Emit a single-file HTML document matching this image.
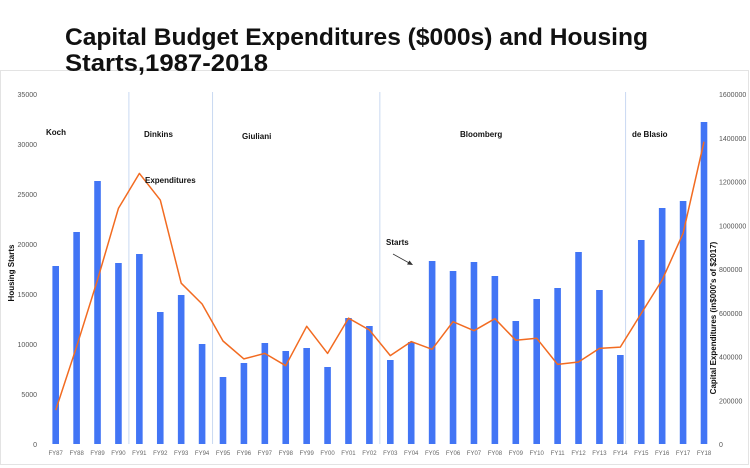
<!DOCTYPE html>
<html><head><meta charset="utf-8"><style>
body{margin:0;background:#fff;}
svg{display:block;font-family:"Liberation Sans",sans-serif;}
</style></head><body>
<svg id="c" width="750" height="468" viewBox="0 0 750 468">
<rect x="0.5" y="70.5" width="748" height="394" fill="#fff" stroke="#e3e3e3"/>
<text x="65" y="45" font-size="24" font-weight="bold" fill="#111" textLength="583" lengthAdjust="spacingAndGlyphs">Capital Budget Expenditures ($000s) and Housing</text>
<text x="65" y="71" font-size="24" font-weight="bold" fill="#111" textLength="203" lengthAdjust="spacingAndGlyphs">Starts,1987-2018</text>
<g id="g"></g>
</svg>
<script>
const categories=["FY87","FY88","FY89","FY90","FY91","FY92","FY93","FY94","FY95","FY96","FY97","FY98","FY99","FY00","FY01","FY02","FY03","FY04","FY05","FY06","FY07","FY08","FY09","FY10","FY11","FY12","FY13","FY14","FY15","FY16","FY17","FY18"];
const starts=[17800,21200,26300,18100,19000,13200,14900,10000,6700,8100,10100,9300,9600,7700,12600,11800,8400,10200,18300,17300,18200,16800,12300,14500,15600,19200,15400,8900,20400,23600,24300,32200];
const expenditures=[155000,445000,750000,1077000,1237000,1115000,735000,640000,471000,389000,414000,358000,538000,414000,575000,521000,404000,468000,433000,559000,518000,573000,474000,483000,364000,375000,437000,443000,597000,750000,963000,1382000];
const leftTicks=[0,5000,10000,15000,20000,25000,30000,35000];
const rightTicks=[0,200000,400000,600000,800000,1000000,1200000,1400000,1600000];
const eras=[{name:"Koch",x:46,y:135},{name:"Dinkins",x:144,y:137},{name:"Giuliani",x:242,y:139},{name:"Bloomberg",x:460,y:137},{name:"de Blasio",x:632,y:137}];
const dividerIdx=[3.5,7.5,15.5,27.25];

const NS="http://www.w3.org/2000/svg";
const g=document.getElementById('g');
const y0=444,y1=94;
const yL=v=>y0-(v/35000)*(y0-y1);
const yR=v=>y0-(v/1600000)*(y0-y1);
const x0=55.7,step=(704-55.7)/31;
const xC=i=>x0+i*step;
function mk(tag,attrs,txt){const e=document.createElementNS(NS,tag);for(const k in attrs)e.setAttribute(k,attrs[k]);if(txt!==undefined)e.textContent=txt;g.appendChild(e);return e;}

leftTicks.forEach(t=>{
  const e=mk('text',{x:37,y:yL(t)+3,'font-size':7,fill:'#555','text-anchor':'end'},String(t));
  
  
});
rightTicks.forEach(t=>{
  const e=mk('text',{x:719,y:yR(t)+3,'font-size':7,fill:'#555'},String(t));
  
  
});
dividerIdx.forEach(d=>{
  const x=xC(d);
  const e=mk('line',{x1:x,x2:x,y1:92,y2:444,stroke:'#c9d8f2','stroke-width':1});
  
  
});
starts.forEach((v,i)=>{
  const e=mk('rect',{x:xC(i)-3.3,y:yL(v),width:6.6,height:y0-yL(v),fill:'#4275f5'});
  
  
});
categories.forEach((c,i)=>{
  const e=mk('text',{x:xC(i),y:455,'font-size':6,fill:'#666','text-anchor':'middle'},c);
  
  
});
const pts=expenditures.map((v,i)=>xC(i).toFixed(1)+','+yR(v).toFixed(1)).join(' ');
const pl=mk('polyline',{points:pts,fill:'none',stroke:'#f26b21','stroke-width':1.5,'stroke-linejoin':'round'});


eras.forEach(r=>{
  const e=mk('text',{x:r.x,y:r.y,'font-size':8,'font-weight':'bold',fill:'#111'},r.name);
  
  
});
const ex=mk('text',{x:145,y:183,'font-size':8,'font-weight':'bold',fill:'#111'},'Expenditures');


const st=mk('text',{x:386,y:245,'font-size':8,'font-weight':'bold',fill:'#111'},'Starts');


const ar=mk('line',{x1:393,y1:254,x2:411,y2:264,stroke:'#333','stroke-width':0.8});


const ah=mk('polygon',{points:'413,265 407,264.5 409.5,260.5',fill:'#333'});


const lt=mk('text',{x:0,y:0,'font-size':8,'font-weight':'bold',fill:'#111','text-anchor':'middle',transform:'translate(14,273) rotate(-90)'},'Housing Starts');


const rt=mk('text',{x:0,y:0,'font-size':8,'font-weight':'bold',fill:'#111','text-anchor':'middle',transform:'translate(716,318) rotate(-90)'},"Capital Expenditures (in$000's of $2017)");


</script>
</body></html>
